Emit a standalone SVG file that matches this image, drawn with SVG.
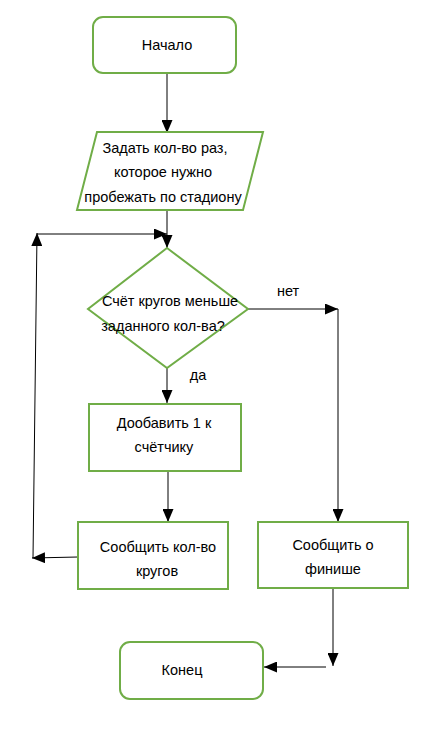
<svg xmlns="http://www.w3.org/2000/svg" width="427" height="735" viewBox="0 0 427 735">
<style>
.node{fill:#ffffff;stroke:#70AD47;stroke-width:2}
.lbl{font-family:"Liberation Sans",Arial,sans-serif;font-size:14.5px;fill:#000000;text-anchor:middle}
.edge{fill:none;stroke:#000000;stroke-width:1}
</style>
<defs>
<marker id="arr" markerUnits="userSpaceOnUse" markerWidth="13" markerHeight="11" refX="13" refY="5.5" orient="auto">
<path d="M0,0 L13,5.5 L0,11 z" fill="#000000"/>
</marker>
</defs>
<rect width="427" height="735" fill="#ffffff"/>
<g id="connectors">
<path class="edge" d="M167,73 L167,133" marker-end="url(#arr)"/>
<path class="edge" d="M167,210 L167,248" marker-end="url(#arr)"/>
<path class="edge" d="M37,234 L167,234" marker-end="url(#arr)"/>
<path class="edge" d="M33,558 L37,233" marker-end="url(#arr)"/>
<path class="edge" d="M78,557 L32,558" marker-end="url(#arr)"/>
<path class="edge" d="M248,309 L338,309" marker-end="url(#arr)"/>
<path class="edge" d="M338,309 L338,522" marker-end="url(#arr)"/>
<path class="edge" d="M167,368 L167,403" marker-end="url(#arr)"/>
<path class="edge" d="M168,471 L168,522" marker-end="url(#arr)"/>
<path class="edge" d="M333,588 L333,666" marker-end="url(#arr)"/>
<path class="edge" d="M326,667 L264,667" marker-end="url(#arr)"/>
<text class="lbl" x="288" y="296">нет</text>
<text class="lbl" x="198" y="380">да</text>
</g>
<g id="start">
<rect class="node" x="93" y="17" width="143" height="56" rx="10"/>
<text class="lbl" x="167" y="50">Начало</text>
</g>
<g id="input">
<polygon class="node" points="97,132 263,132 243,210 77,210"/>
<text class="lbl" x="165" y="153">Задать кол-во раз,</text>
<text class="lbl" x="163" y="177">которое нужно</text>
<text class="lbl" x="163" y="202">пробежать по стадиону</text>
</g>
<g id="decision">
<polygon class="node" points="167,248 248,309 167,368 88,309"/>
<text class="lbl" x="170" y="306">Счёт кругов меньше</text>
<text class="lbl" x="163" y="331">заданного кол-ва?</text>
</g>
<g id="increment">
<rect class="node" x="89" y="404" width="152" height="67"/>
<text class="lbl" x="164" y="428">Дообавить 1 к</text>
<text class="lbl" x="164" y="452">счётчику</text>
</g>
<g id="report-laps">
<rect class="node" x="78" y="522" width="150" height="67"/>
<text class="lbl" x="158" y="552">Сообщить кол-во</text>
<text class="lbl" x="157" y="576">кругов</text>
</g>
<g id="report-finish">
<rect class="node" x="258" y="522" width="150" height="66"/>
<text class="lbl" x="333" y="550">Сообщить о</text>
<text class="lbl" x="333" y="574">финише</text>
</g>
<g id="end">
<rect class="node" x="120" y="642" width="143" height="57" rx="10"/>
<text class="lbl" x="182" y="675">Конец</text>
</g>
</svg>
